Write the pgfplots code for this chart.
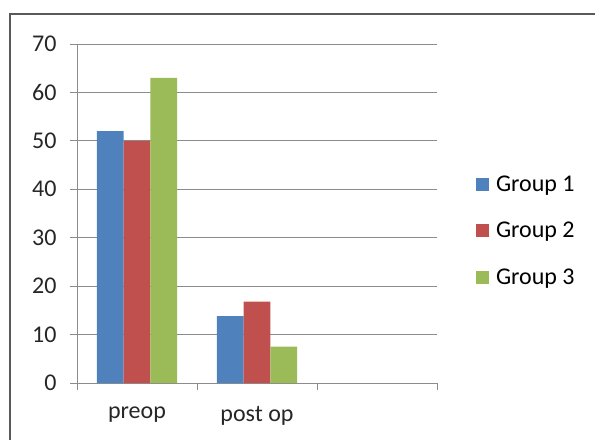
\documentclass[border=0pt]{standalone}
\usepackage{pgfplots}
\pgfplotsset{compat=1.18}
\usepackage{fontspec}
\setmainfont{Carlito}
\usetikzlibrary{calc}
\definecolor{gA}{HTML}{4F81BD}
\definecolor{gB}{HTML}{C0504D}
\definecolor{gC}{HTML}{9BBB59}
\definecolor{gridc}{HTML}{8C8C8C}
\begin{document}
\begin{tikzpicture}[x=1pt,y=1pt]
\begin{axis}[
  scale only axis, width=360pt, height=339pt,
  xmin=-0.5, xmax=2.5, ymin=0, ymax=70,
  ybar=0pt, bar width=26.7pt,
  axis x line*=bottom, axis y line*=left,
  axis line style={draw=gridc, line width=0.8pt, -},
  tick align=outside,
  major tick length=7pt,
  tick style={draw=gridc, line width=0.8pt},
  ytick={0,10,...,70},
  ymajorgrids, grid style={draw=gridc, line width=0.8pt},
  xtick={-0.5,0.5,1.5,2.5},
  xticklabels={preop, post op, {}},
  x tick label as interval,
  font=\fontsize{24}{28}\selectfont,
  /pgf/number format/assume math mode=true,
  ticklabel style={font=\fontsize{24}{28}\selectfont, text=black!85},
  xticklabel style={yshift=-13pt},
  yticklabel style={xshift=-10pt},
  legend style={at={(1.108,0.618)}, anchor=north west, draw=none, fill=none,
    font=\fontsize{24}{28}\selectfont, row sep=25.5pt, inner sep=0pt,
    nodes={inner xsep=7pt}},
  legend cell align=left,
  legend image code/.code={\fill[#1] (0pt,-6.5pt) rectangle (13pt,6.5pt);},
]
\coordinate (bl) at (rel axis cs:0,0);
\addplot[fill=gA, draw=none] coordinates {(0,52) (1,13.8)};
\addplot[fill=gB, draw=none] coordinates {(0,50) (1,16.8)};
\addplot[fill=gC, draw=none] coordinates {(0,63) (1,7.5)};
\legend{Group 1, Group 2, Group 3}
\end{axis}
% page and outer chart frame placed relative to the axis corner
\path[use as bounding box] ($(bl)+(-77,-57)$) rectangle ++(595,440);
\draw[line width=2.2pt, color=black!65]
  ($(bl)+(-67,-57)$) -- ($(bl)+(-67,369)$) -- ($(bl)+(518,369)$);
\end{tikzpicture}
\end{document}
